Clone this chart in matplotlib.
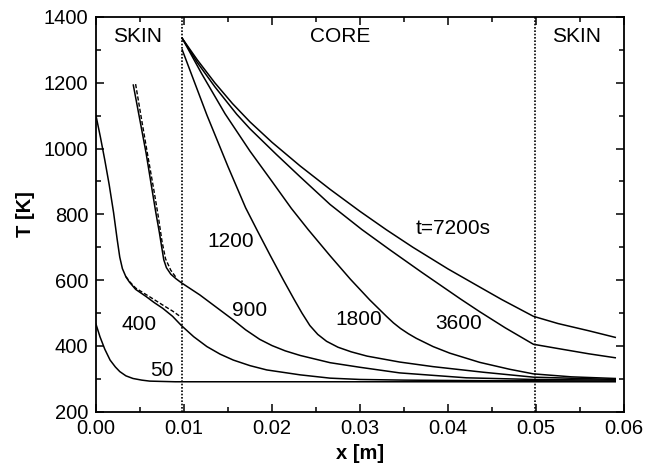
import matplotlib
matplotlib.use("Agg")
import matplotlib.pyplot as plt
from matplotlib.ticker import MultipleLocator, FormatStrFormatter

plt.rcParams['font.family'] = ['Liberation Sans', 'DejaVu Sans']

# ---- data ----
x_50 = [0.0, 0.00045, 0.0010, 0.0016, 0.0022, 0.0027, 0.0034, 0.0042, 0.0052, 0.0061, 0.0075, 0.0090, 0.020, 0.030, 0.040, 0.050, 0.059]
T_50 = [466, 428, 390, 357, 336, 322, 309, 301, 296, 293, 292, 291, 291, 291, 291, 291, 291]

x_400 = [0.0, 0.0005, 0.0010, 0.0015, 0.0020, 0.0024, 0.0027, 0.0030, 0.0034, 0.0038, 0.0045, 0.0057, 0.0066, 0.0076, 0.0087, 0.0097,
         0.0111, 0.0126, 0.0141, 0.0156, 0.0175, 0.0194, 0.0232, 0.0266, 0.030, 0.035, 0.040, 0.045, 0.050, 0.059]
T_400 = [1100, 1035, 965, 890, 805, 725, 670, 635, 610, 594, 572, 550, 532, 514, 490, 462,
         428, 398, 375, 357, 340, 327, 312, 302, 298, 296, 295, 294, 294, 293]
x_400d = [0.0034, 0.0038, 0.0045, 0.0057, 0.0066, 0.0076, 0.0087, 0.0097]
T_400d = [611, 596, 576, 556, 541, 524, 506, 487]

x_900 = [0.00424, 0.0050, 0.0057, 0.0064, 0.0068, 0.0072, 0.0075, 0.0077, 0.0080, 0.0085, 0.0091, 0.0097, 0.0118, 0.0137, 0.0156,
         0.0170, 0.0186, 0.0200, 0.0215, 0.0232, 0.0266, 0.0300, 0.0345, 0.0421, 0.0497, 0.059]
T_900 = [1193, 1085, 985, 870, 805, 745, 695, 662, 638, 618, 604, 592, 555, 517, 479,
         449, 420, 401, 385, 371, 349, 335, 318, 303, 298, 296]
x_900d = [0.0045, 0.0052, 0.00594, 0.0066, 0.0071, 0.0075, 0.0079, 0.0085, 0.0091]
T_900d = [1196, 1085, 970, 870, 790, 718, 665, 630, 608]

x_1200 = [0.0098, 0.0126, 0.0150, 0.0170, 0.0183, 0.0198, 0.0213, 0.0225, 0.0234, 0.0243, 0.0252, 0.0262, 0.0275, 0.0290, 0.0308,
          0.0345, 0.0383, 0.0440, 0.0497, 0.059]
T_1200 = [1300, 1102, 945, 820, 752, 675, 600, 542, 500, 462, 435, 414, 396, 382, 369,
          351, 337, 320, 305, 298]

x_1800 = [0.0098, 0.0120, 0.01466, 0.0175, 0.0200, 0.0222, 0.0241, 0.0266, 0.0289, 0.0311, 0.0330, 0.0338, 0.0346, 0.0355, 0.0364,
          0.0383, 0.0402, 0.0436, 0.0470, 0.0497, 0.054, 0.059]
T_1800 = [1335, 1228, 1106, 992, 900, 818, 754, 674, 603, 540, 490, 470, 453, 437, 423,
          398, 378, 350, 329, 315, 306, 301]

x_3600 = [0.0098, 0.0115, 0.0135, 0.0160, 0.0175, 0.0205, 0.0232, 0.0266, 0.0302, 0.0334, 0.0370, 0.0414, 0.0436, 0.0465, 0.0497,
          0.0525, 0.056, 0.059]
T_3600 = [1335, 1262, 1188, 1104, 1060, 982, 914, 830, 754, 692, 624, 543, 504, 455, 405,
          392, 376, 364]

x_7200 = [0.0098, 0.0115, 0.0135, 0.0155, 0.0175, 0.0200, 0.0232, 0.0266, 0.0300, 0.0330, 0.0360, 0.0400, 0.0436, 0.0461, 0.0497,
          0.0525, 0.056, 0.059]
T_7200 = [1335, 1270, 1200, 1137, 1081, 1019, 947, 876, 809, 753, 700, 634, 579, 541, 490,
          468, 446, 426]

x_bounds = [0.0098, 0.0499]

labels = ["50", "400", "900", "1200", "1800", "3600", "t=7200s"]
label_x = [0.0075, 0.00494, 0.01744, 0.0153, 0.0299, 0.04125, 0.0406]
label_T = [324, 466, 507, 716, 481, 467, 757]

regions = ["SKIN", "CORE", "SKIN"]
region_x = [0.0047, 0.0278, 0.05455]
region_T = 1342

x_ticks = [0.00, 0.01, 0.02, 0.03, 0.04, 0.05, 0.06]
y_ticks = [200, 400, 600, 800, 1000, 1200, 1400]

# ---- plot ----
fig = plt.figure(figsize=(6.46, 4.68), dpi=100)
ax = fig.add_axes([0.1486, 0.1203, 0.8174, 0.8434])

lw = 1.1
for xs, Ts in [(x_50, T_50), (x_400, T_400), (x_900, T_900), (x_1200, T_1200),
               (x_1800, T_1800), (x_3600, T_3600), (x_7200, T_7200)]:
    ax.plot(xs, Ts, color='black', lw=lw)
for xs, Ts in [(x_400d, T_400d), (x_900d, T_900d)]:
    ax.plot(xs, Ts, color='black', lw=1.0, ls=(0, (3, 1.5)))

for xb in x_bounds:
    ax.axvline(xb, color='black', lw=1.2, ls=(0, (1, 1)))

for s, xx, yy in zip(labels, label_x, label_T):
    ax.text(xx, yy, s, ha='center', va='center', fontsize=15)
for s, xx in zip(regions, region_x):
    ax.text(xx, region_T, s, ha='center', va='center', fontsize=15)

ax.set_xlim(0, 0.06)
ax.set_ylim(200, 1400)
ax.set_xticks(x_ticks)
ax.set_yticks(y_ticks)
ax.xaxis.set_major_formatter(FormatStrFormatter('%.2f'))
ax.xaxis.set_minor_locator(MultipleLocator(0.005))
ax.yaxis.set_minor_locator(MultipleLocator(100))
ax.tick_params(which='both', direction='in', top=True, right=True, width=1.1, labelsize=14.5)
ax.tick_params(which='major', length=6, pad=5.5)
ax.tick_params(which='minor', length=3.5)
for sp in ax.spines.values():
    sp.set_linewidth(1.3)

ax.set_xlabel('x [m]', fontsize=14.5, fontweight='bold', labelpad=4)
ax.set_ylabel('T [K]', fontsize=14.5, fontweight='bold', labelpad=6)

fig.savefig('out.png', dpi=100)
